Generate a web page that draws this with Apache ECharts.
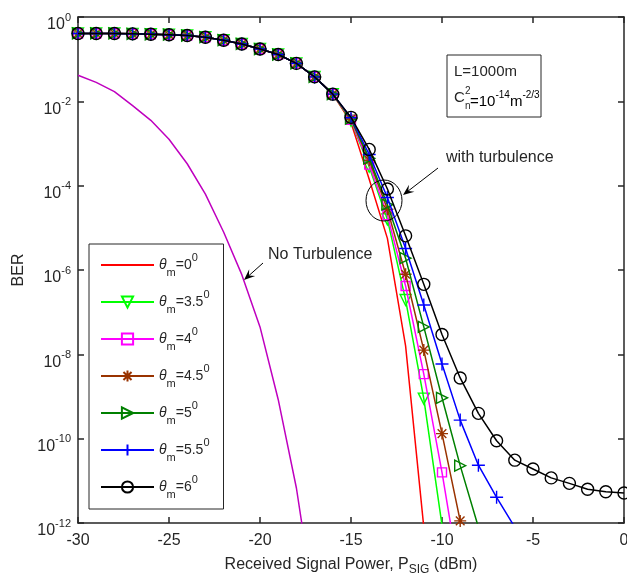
<!DOCTYPE html>
<html>
<head>
<meta charset="utf-8">
<script src="https://cdn.jsdelivr.net/npm/echarts@6/dist/echarts.min.js"></script>
<style>
html,body{margin:0;padding:0;background:#fff;overflow:hidden;}
#c{width:627px;height:574px;}
</style>
</head>
<body>
<div id="c"></div>
<script>
// Received signal power (dBm)
const power = [-30,-29,-28,-27,-26,-25,-24,-23,-22,-21,-20,-19,-18,-17,-16,-15,-14,-13,-12,-11,-10,-9,-8,-7,-6,-5,-4,-3,-2,-1,0];
// log10(BER), common part of all turbulence curves (-30 .. -16 dBm)
const topLogBer = [-0.39,-0.39,-0.39,-0.40,-0.41,-0.42,-0.44,-0.48,-0.55,-0.64,-0.76,-0.89,-1.10,-1.42,-1.83];
// log10(BER) tails from -15 dBm onward
const tail0   = [-2.50,-3.85,-5.25,-7.80,-12.10];
const tail35  = [-2.46,-3.55,-4.80,-6.71,-9.05,-12.05];
const tail4   = [-2.44,-3.50,-4.70,-6.38,-8.47,-10.80,-13.40];
const tail45  = [-2.42,-3.40,-4.56,-6.10,-7.90,-9.88,-11.95];
const tail5   = [-2.41,-3.35,-4.45,-5.72,-7.35,-9.03,-10.64,-12.10];
const tail55  = [-2.39,-3.26,-4.28,-5.49,-6.83,-8.23,-9.56,-10.63,-11.39,-12.10];
const tail6   = [-2.38,-3.14,-4.08,-5.19,-6.34,-7.53,-8.56,-9.40,-10.05,-10.51,-10.72,-10.93,-11.06,-11.20,-11.26,-11.29];
// No turbulence curve, log10(BER) from -30 to -17 dBm
const noTurbLogBer = [-1.38,-1.55,-1.77,-2.10,-2.45,-2.90,-3.48,-4.20,-5.10,-6.11,-7.35,-9.07,-11.17,-14.00];
// legend angle labels
const thetaLabels = ['0','3.5','4','4.5','5','5.5','6'];

const TXT = '#262626';
const FONT = 'Liberation Sans, Arial, sans-serif';

function toData(logs){ return logs.map((e,i)=>[power[i], Math.pow(10,e)]); }

const styles = [
  {color:'#ff0000', symbol:'none', rot:0, size:0},
  {color:'#00ff00', symbol:'triangle', rot:180, size:11},
  {color:'#ff00ff', symbol:'rect', rot:0, size:9},
  {color:'#993300', symbol:'path://M0,-5L0,5M-5,0L5,0M-3.6,-3.6L3.6,3.6M-3.6,3.6L3.6,-3.6', rot:0, size:12},
  {color:'#008000', symbol:'triangle', rot:-90, size:11},
  {color:'#0000ff', symbol:'path://M0,-5L0,5M-5,0L5,0', rot:0, size:13},
  {color:'#000000', symbol:'circle', rot:0, size:12}
];
const tails = [tail0, tail35, tail4, tail45, tail5, tail55, tail6];

const series = tails.map((t,k)=>{
  const s = styles[k];
  return {
    type:'line',
    name:'θm=' + thetaLabels[k],
    data: toData(topLogBer.concat(t)),
    symbol: s.symbol === 'none' ? 'circle' : s.symbol,
    showSymbol: true,
    symbolSize: s.symbol === 'none' ? 0.01 : s.size,
    symbolRotate: s.rot,
    symbolKeepAspect: true,
    color: s.color,
    lineStyle:{color:s.color, width:1.5},
    itemStyle:{color:'rgba(0,0,0,0)', borderColor: s.symbol==='none' ? 'rgba(0,0,0,0)' : s.color, borderWidth: s.symbol==='none'?0:1.4},
    emphasis:{disabled:true},
    clip:true,
    animation:false,
    z: 2 + k
  };
});
series.unshift({
  type:'line',
  name:'No Turbulence',
  data: toData(noTurbLogBer),
  symbol:'none',
  color:'#bf00bf',
  lineStyle:{color:'#bf00bf', width:1.5},
  emphasis:{disabled:true},
  clip:true,
  animation:false,
  z:1
});

function arrow(x1,y1,x2,y2){
  const dx=x2-x1, dy=y2-y1, L=Math.hypot(dx,dy);
  const ux=dx/L, uy=dy/L, nx=-uy, ny=ux;
  const hl=11, hw=4.5;
  return [
    {type:'line', shape:{x1:x1,y1:y1,x2:x2-ux*5,y2:y2-uy*5}, style:{stroke:'#000',lineWidth:1}, z:50},
    {type:'polygon', shape:{points:[[x2,y2],[x2-ux*hl+nx*hw,y2-uy*hl+ny*hw],[x2-ux*hl*0.6,y2-uy*hl*0.6],[x2-ux*hl-nx*hw,y2-uy*hl-ny*hw]]}, style:{fill:'#000'}, z:50}
  ];
}

const richSup = {
  t:{fontSize:15, fontFamily:FONT, color:TXT, lineHeight:24},
  p:{fontSize:10, fontFamily:FONT, color:TXT, lineHeight:10, verticalAlign:'top'}
};

const graphic = [
  // parameter box
  {type:'rect', shape:{x:447,y:55,width:94,height:62}, style:{fill:'#fff', stroke:TXT, lineWidth:1}, z:40},
  {type:'text', x:454, y:72, style:{text:'L=1000m', font:'15px '+FONT, fill:TXT, verticalAlign:'middle'}, z:41},
  {type:'text', x:454, y:98, style:{text:'C', font:'15px '+FONT, fill:TXT, verticalAlign:'middle'}, z:41},
  {type:'text', x:465, y:91, style:{text:'2', font:'10px '+FONT, fill:TXT, verticalAlign:'middle'}, z:41},
  {type:'text', x:465, y:106, style:{text:'n', font:'10px '+FONT, fill:TXT, verticalAlign:'middle'}, z:41},
  {type:'text', x:470, y:102, style:{text:'{t|=10}{p|-14}{t|m}{p|-2/3}', rich:richSup, verticalAlign:'middle'}, z:41},
  // annotations
  {type:'text', x:446, y:158, style:{text:'with turbulence', font:'16px '+FONT, fill:TXT, verticalAlign:'middle'}, z:41},
  {type:'text', x:268, y:255, style:{text:'No Turbulence', font:'16px '+FONT, fill:TXT, verticalAlign:'middle'}, z:41},
  {type:'ellipse', shape:{cx:384, cy:200.5, rx:18, ry:20.5}, style:{fill:'none', stroke:'#000', lineWidth:1}, z:41}
].concat(arrow(438,168,403,195)).concat(arrow(263,263,244,280));

const chart = echarts.init(document.getElementById('c'), null, {renderer:'canvas'});
const axisLineStyle = {color:TXT, width:1.5};
chart.setOption({
  backgroundColor:'#fff',
  animation:false,
  grid:{left:78, right:3, top:17, bottom:51, containLabel:false, outerBoundsMode:'none'},
  xAxis:[{
    type:'value', min:-30, max:0, interval:5, position:'bottom',
    name:'{a|Received Signal Power, P}{s|SIG}{a| (dBm)}', nameLocation:'middle', nameGap:31,
    nameTextStyle:{rich:{a:{fontSize:16, fontFamily:FONT, color:TXT, lineHeight:22}, s:{fontSize:12, fontFamily:FONT, color:TXT, lineHeight:10, verticalAlign:'bottom'}}},
    axisLine:{show:true, onZero:false, lineStyle:axisLineStyle},
    axisTick:{show:true, inside:true, length:6, lineStyle:axisLineStyle},
    axisLabel:{fontSize:16, fontFamily:FONT, color:TXT, margin:10, hideOverlap:false},
    splitLine:{show:false}
  },{
    type:'value', min:-30, max:0, interval:5, position:'top',
    axisLine:{show:true, onZero:false, lineStyle:axisLineStyle},
    axisTick:{show:true, inside:true, length:6, lineStyle:axisLineStyle},
    axisLabel:{show:false}, splitLine:{show:false}
  }],
  yAxis:[{
    type:'log', logBase:10, min:1e-12, max:1, interval:2, position:'left',
    name:'BER', nameLocation:'middle', nameGap:50,
    nameTextStyle:{fontSize:16, fontFamily:FONT, color:TXT},
    axisLine:{show:true, onZero:false, lineStyle:axisLineStyle},
    axisTick:{show:true, inside:true, length:6, lineStyle:axisLineStyle},
    axisLabel:{
      margin:7, padding:[16,0,0,0],
      formatter:function(v){ const e=Math.round(Math.log10(v)); return '{b|10}{s|'+e+'}'; },
      rich:{b:{fontSize:16, fontFamily:FONT, color:TXT, lineHeight:26}, s:{fontSize:11, fontFamily:FONT, color:TXT, lineHeight:10, verticalAlign:'top'}}
    },
    splitLine:{show:false}
  },{
    type:'log', logBase:10, min:1e-12, max:1, interval:2, position:'right',
    axisLine:{show:true, onZero:false, lineStyle:axisLineStyle},
    axisTick:{show:true, inside:true, length:6, lineStyle:axisLineStyle},
    axisLabel:{show:false}, splitLine:{show:false}
  }],
  legend:{
    orient:'vertical', left:89, top:244,
    data: series.slice(1).map(s=>s.name),
    itemWidth:53, itemHeight:14, itemGap:11, itemTextGap:5,
    padding:[8,14,9,11],
    borderColor:TXT, borderWidth:1, backgroundColor:'#fff',
    selectedMode:false,
    symbolRotate:'inherit',
    formatter:function(n){ const v=n.split('=')[1]; return '{i|θ}{s|m}{t|='+v+'}{p|0}'; },
    textStyle:{rich:{
      i:{fontSize:14, fontStyle:'italic', fontFamily:FONT, color:TXT, lineHeight:26},
      s:{fontSize:11, fontFamily:FONT, color:TXT, lineHeight:9, verticalAlign:'bottom'},
      t:{fontSize:14, fontFamily:FONT, color:TXT, lineHeight:26},
      p:{fontSize:11, fontFamily:FONT, color:TXT, lineHeight:14, verticalAlign:'top'}
    }}
  },
  series: series,
  graphic: graphic
});
</script>
</body>
</html>
